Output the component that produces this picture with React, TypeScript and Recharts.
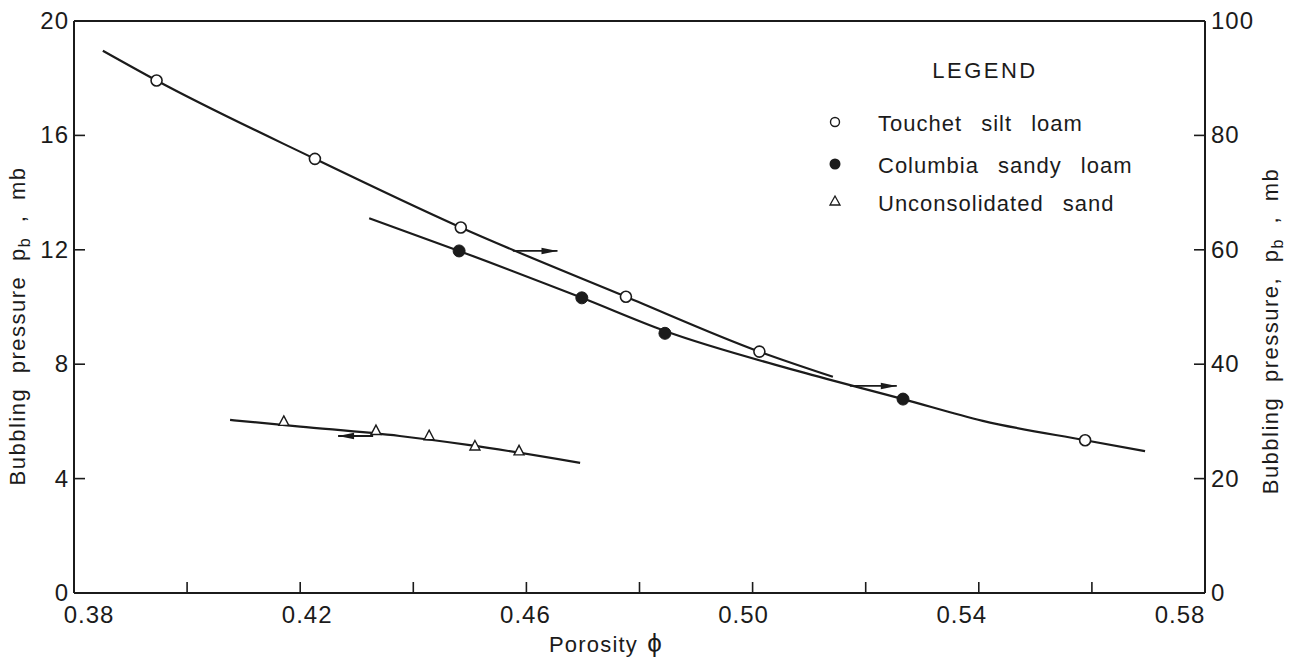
import React from 'react';
import { ComposedChart, Line, Scatter, XAxis, YAxis, ReferenceLine, Legend } from 'recharts';

const FONT = '"Liberation Sans", Arial, Helvetica, sans-serif';
const INK = '#1b1b1b';

// ---- axes ----
const xTicks = [0.38, 0.4, 0.42, 0.44, 0.46, 0.48, 0.5, 0.52, 0.54, 0.56, 0.58];
const xTickLabels = ['0.38', '', '0.42', '', '0.46', '', '0.50', '', '0.54', '', '0.58'];
const leftTicks = [0, 4, 8, 12, 16, 20];
const rightTicks = [0, 20, 40, 60, 80, 100];

// ---- Touchet silt loam (right axis, mb) ----
const touchetX = [0.3946, 0.4226, 0.4484, 0.4776, 0.5012, 0.5588];
const touchetY = [89.6, 75.9, 63.9, 51.8, 42.2, 26.7];
const touchetCurveX = [0.3851, 0.3946, 0.4226, 0.4484, 0.4776, 0.5012, 0.5142];
const touchetCurveY = [94.8, 89.6, 75.9, 63.9, 51.8, 42.2, 37.8];

// ---- Columbia sandy loam (right axis, mb) ----
const columbiaX = [0.4481, 0.4698, 0.4845, 0.5266];
const columbiaY = [59.8, 51.6, 45.4, 33.9];
const columbiaCurveX = [0.4322, 0.4481, 0.4698, 0.4845, 0.5084, 0.5266, 0.5407, 0.5588, 0.5694];
const columbiaCurveY = [65.5, 59.8, 51.6, 45.8, 38.7, 33.9, 30.1, 26.7, 24.8];

// ---- Unconsolidated sand (left axis, mb) ----
const sandX = [0.4171, 0.4334, 0.4428, 0.4509, 0.4587];
const sandY = [6.0, 5.68, 5.5, 5.14, 4.97];
const sandCurveX = [0.4076, 0.42, 0.4376, 0.45, 0.4695];
const sandCurveY = [6.05, 5.82, 5.49, 5.17, 4.55];

// ---- arrows (tail -> head) ----
const touchetArrowX = [0.4576, 0.4655];
const touchetArrowY = [59.8, 59.8];
const columbiaArrowX = [0.5172, 0.5255];
const columbiaArrowY = [36.2, 36.2];
const sandArrowX = [0.4329, 0.4267];
const sandArrowY = [5.49, 5.49];

const legendLabels = ['Touchet silt loam', 'Columbia sandy loam', 'Unconsolidated sand'];

const zip = (xs: number[], ys: number[]) => xs.map((x, i) => ({ x, y: ys[i] }));

const touchetPts = zip(touchetX, touchetY);
const touchetCurve = zip(touchetCurveX, touchetCurveY);
const columbiaPts = zip(columbiaX, columbiaY);
const columbiaCurve = zip(columbiaCurveX, columbiaCurveY);
const sandPts = zip(sandX, sandY);
const sandCurve = zip(sandCurveX, sandCurveY);
const touchetArrow = zip(touchetArrowX, touchetArrowY);
const columbiaArrow = zip(columbiaArrowX, columbiaArrowY);
const sandArrow = zip(sandArrowX, sandArrowY);

const XTick = (props: any) => {
  const { x, y, index } = props;
  const label = xTickLabels[index];
  return (
    <g>
      {index > 0 && index < xTicks.length - 1 && (
        <line x1={x} y1={y} x2={x} y2={y - 11} stroke={INK} strokeWidth={1.6} />
      )}
      {label ? (
        <text x={x + 15 - 4 * index} y={y + 30} textAnchor="middle" fontSize={24} fontFamily={FONT} fill={INK} letterSpacing={1}>
          {label}
        </text>
      ) : null}
    </g>
  );
};

const LeftTick = (props: any) => {
  const { x, y, index, payload } = props;
  return (
    <g>
      {index > 0 && index < leftTicks.length - 1 && (
        <line x1={x} y1={y} x2={x + 11} y2={y} stroke={INK} strokeWidth={1.6} />
      )}
      <text x={x - 5} y={y + 8} textAnchor="end" fontSize={24} fontFamily={FONT} fill={INK} letterSpacing={1}>
        {payload.value}
      </text>
    </g>
  );
};

const RightTick = (props: any) => {
  const { x, y, index, payload } = props;
  return (
    <g>
      {index > 0 && index < rightTicks.length - 1 && (
        <line x1={x} y1={y} x2={x - 11} y2={y} stroke={INK} strokeWidth={1.6} />
      )}
      <text x={x + 6} y={y + 8} textAnchor="start" fontSize={24} fontFamily={FONT} fill={INK} letterSpacing={1}>
        {payload.value}
      </text>
    </g>
  );
};

const titleStyle = { fontSize: 22, fontFamily: FONT, fill: INK, letterSpacing: 1.5, wordSpacing: 7 } as any;

const LeftTitle = () => (
  <text transform="translate(25,326) rotate(-90)" textAnchor="middle" style={titleStyle}>
    Bubbling pressure p<tspan dy={5} fontSize={16}>b</tspan>
    <tspan dy={-5}> , mb</tspan>
  </text>
);

const RightTitle = () => (
  <text transform="translate(1278,331) rotate(-90)" textAnchor="middle" style={titleStyle}>
    Bubbling pressure, p<tspan dy={5} fontSize={16}>b</tspan>
    <tspan dy={-5}> , mb</tspan>
  </text>
);

const XTitle = () => (
  <text x={606} y={652} textAnchor="middle" style={{ ...titleStyle, letterSpacing: 1.2, wordSpacing: 2 }}>
    Porosity <tspan fontSize={26}>ϕ</tspan>
  </text>
);

const OpenCircle = (p: any) => (
  <circle cx={p.cx} cy={p.cy} r={5.5} fill="#ffffff" stroke={INK} strokeWidth={1.6} />
);
const FilledCircle = (p: any) => <circle cx={p.cx} cy={p.cy} r={6} fill={INK} stroke={INK} strokeWidth={1} />;
const OpenTriangle = (p: any) => (
  <path
    d={`M${p.cx},${p.cy - 5.5} L${p.cx + 5},${p.cy + 4} L${p.cx - 5},${p.cy + 4} Z`}
    fill="#ffffff"
    stroke={INK}
    strokeWidth={1.4}
  />
);

const makeArrowDot = (dir: number) => (p: any) => {
  if (p.index !== 1) return <g key={`a${p.index}`} />;
  const { cx, cy } = p;
  return (
    <path
      key={`a${p.index}`}
      d={`M${cx},${cy} L${cx - dir * 16},${cy - 3.2} L${cx - dir * 16},${cy + 3.2} Z`}
      fill={INK}
      stroke="none"
    />
  );
};

const LegendBox = () => (
  <svg width={1298} height={669} style={{ position: 'absolute', left: 0, top: 0 }}>
    <text x={985} y={78} textAnchor="middle" fontSize={22} fontFamily={FONT} fill={INK} letterSpacing={2.5}>
      LEGEND
    </text>
    <circle cx={835} cy={122} r={4.5} fill="#fff" stroke={INK} strokeWidth={1.4} />
    <circle cx={835} cy={164} r={5.5} fill={INK} />
    <path d="M835,196 L840,205 L830,205 Z" fill="#fff" stroke={INK} strokeWidth={1.3} />
    {legendLabels.map((t, i) => (
      <text
        key={t}
        x={878}
        y={[131, 173, 211][i]}
        fontSize={22}
        fontFamily={FONT}
        fill={INK}
        letterSpacing={1}
        style={{ wordSpacing: 12 } as any}
      >
        {t}
      </text>
    ))}
  </svg>
);

export default function App() {
  return (
    <div style={{ position: 'absolute', left: 0, top: 0, width: 1298, height: 669, background: '#fff' }}>
      <ComposedChart width={1298} height={669} margin={{ top: 21, right: 33, bottom: 36, left: 14 }}>
        <XAxis
          type="number"
          dataKey="x"
          domain={[0.38, 0.58]}
          ticks={xTicks}
          interval={0}
          allowDataOverflow
          height={40}
          tickSize={0}
          tickMargin={0}
          tickLine={false}
          axisLine={{ stroke: INK, strokeWidth: 2 }}
          tick={<XTick />}
          label={<XTitle />}
        />
        <YAxis
          yAxisId="left"
          type="number"
          dataKey="y"
          domain={[0, 20]}
          ticks={leftTicks}
          interval={0}
          width={60}
          tickSize={0}
          tickMargin={0}
          tickLine={false}
          axisLine={{ stroke: INK, strokeWidth: 2 }}
          tick={<LeftTick />}
          label={<LeftTitle />}
        />
        <YAxis
          yAxisId="right"
          orientation="right"
          type="number"
          dataKey="y"
          domain={[0, 100]}
          ticks={rightTicks}
          interval={0}
          width={60}
          tickSize={0}
          tickMargin={0}
          tickLine={false}
          axisLine={{ stroke: INK, strokeWidth: 2 }}
          tick={<RightTick />}
          label={<RightTitle />}
        />
        <ReferenceLine yAxisId="left" y={20} stroke={INK} strokeWidth={2} />

        <Line yAxisId="right" data={touchetCurve} dataKey="y" type="monotone" stroke={INK} strokeWidth={2.2} dot={false} isAnimationActive={false} legendType="none" />
        <Line yAxisId="right" data={columbiaCurve} dataKey="y" type="monotone" stroke={INK} strokeWidth={2.2} dot={false} isAnimationActive={false} legendType="none" />
        <Line yAxisId="left" data={sandCurve} dataKey="y" type="monotone" stroke={INK} strokeWidth={2.2} dot={false} isAnimationActive={false} legendType="none" />

        <Line yAxisId="right" data={touchetArrow} dataKey="y" type="linear" stroke={INK} strokeWidth={1.8} dot={makeArrowDot(1)} isAnimationActive={false} legendType="none" />
        <Line yAxisId="right" data={columbiaArrow} dataKey="y" type="linear" stroke={INK} strokeWidth={1.8} dot={makeArrowDot(1)} isAnimationActive={false} legendType="none" />
        <Line yAxisId="left" data={sandArrow} dataKey="y" type="linear" stroke={INK} strokeWidth={1.8} dot={makeArrowDot(-1)} isAnimationActive={false} legendType="none" />

        <Scatter yAxisId="right" data={touchetPts} shape={<OpenCircle />} isAnimationActive={false} name={legendLabels[0]} />
        <Scatter yAxisId="right" data={columbiaPts} shape={<FilledCircle />} isAnimationActive={false} name={legendLabels[1]} />
        <Scatter yAxisId="left" data={sandPts} shape={<OpenTriangle />} isAnimationActive={false} name={legendLabels[2]} />

        <Legend
          layout="vertical"
          align="center"
          verticalAlign="middle"
          wrapperStyle={{ position: 'absolute', left: 0, top: 0, width: 1298, height: 669, pointerEvents: 'none' }}
          content={() => <LegendBox />}
        />
      </ComposedChart>
    </div>
  );
}
